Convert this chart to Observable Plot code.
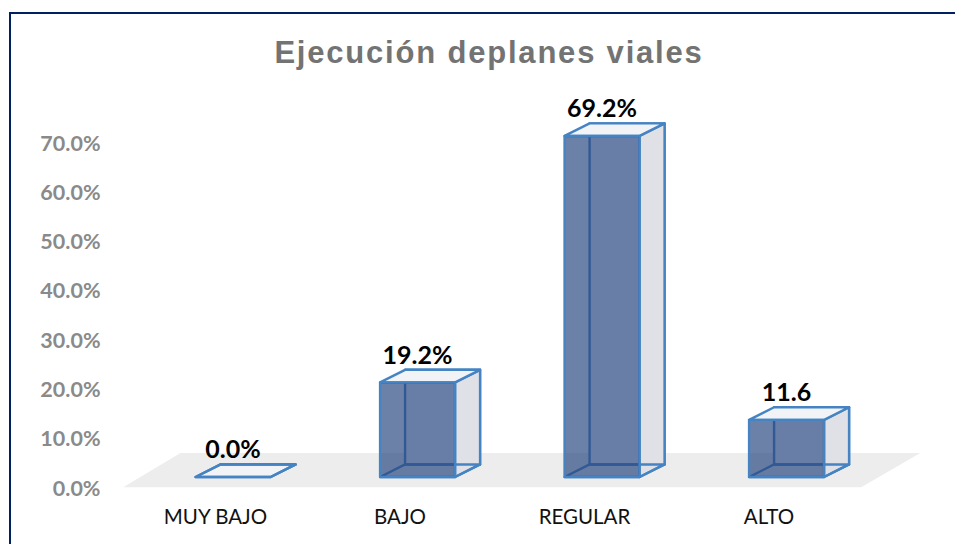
<!DOCTYPE html>
<html>
<head>
<meta charset="utf-8">
<script src="https://cdn.jsdelivr.net/npm/d3@7"></script>
<script src="https://cdn.jsdelivr.net/npm/@observablehq/plot@0.6"></script>
<style>
html,body{margin:0;padding:0;background:#fff;overflow:hidden}
#page{position:relative;width:955px;height:544px;overflow:hidden}
#frame{position:absolute;left:9px;top:12px;right:0;bottom:0;border-left:2px solid #002060;border-top:2px solid #002060;pointer-events:none}
#title{position:absolute;left:0;top:34px;width:978px;text-align:center;font:bold 31px "Liberation Sans",Arial,sans-serif;letter-spacing:1.8px;color:#737373;line-height:38px}
#chart{position:absolute;left:0;top:80px}
#chart svg{display:block}
</style>
</head>
<body>
<div id="page">
<div id="frame"></div>
<div id="title">Ejecución deplanes viales</div>
<div id="chart"></div>
</div>
<script>
const categories = ["MUY BAJO", "BAJO", "REGULAR", "ALTO"];
const values = [0, 19.2, 69.2, 11.6];
const valueLabels = ["0.0%", "19.2%", "69.2%", "11.6"];
const yTicks = [0, 10, 20, 30, 40, 50, 60, 70];

// Box geometry, in data units of the two scales
const barStart = -0.108, barWidth = 0.4065;
const depthX = 0.1355, depthY = 2.55;
const floorFront = -2.1, floorBack = 4.85;
const floorX = [-0.5, 3.5];

const edge = "#4583c3";
function poly(id, pts) {
  return [...pts, pts[0]].map(([x, y]) => ({id, x, y}));
}
const backFaces = [], sideFaces = [], topFaces = [], bottomFaces = [], frontFaces = [];
values.forEach((v, i) => {
  const a = i + barStart, b = a + barWidth;
  backFaces.push(...poly("back" + i, [[a + depthX, depthY], [b + depthX, depthY], [b + depthX, v + depthY], [a + depthX, v + depthY]]));
  sideFaces.push(...poly("side" + i, [[b, 0], [b + depthX, depthY], [b + depthX, v + depthY], [b, v]]));
  topFaces.push(...poly("top" + i, [[a, v], [b, v], [b + depthX, v + depthY], [a + depthX, v + depthY]]));
  bottomFaces.push(...poly("bottom" + i, [[a, 0], [b, 0], [b + depthX, depthY], [a + depthX, depthY]]));
  if (v > 0) frontFaces.push(...poly("front" + i, [[a, 0], [b, 0], [b, v], [a, v]]));
});
const floor = poly("floor", [[floorX[0], floorFront], [floorX[1], floorFront], [floorX[1] + 0.32, floorBack], [floorX[0] + 0.31, floorBack]]);
const face = (data, fill, extra = {}) => Plot.line(data, {x: "x", y: "y", z: "id", fill, curve: "linear", stroke: edge, strokeWidth: 2.4, strokeLinejoin: "round", ...extra});
const labelRows = values.map((v, i) => ({x: i + barStart + barWidth / 2, y: v + depthY, t: valueLabels[i]}));

const plot = Plot.plot({
  width: 955,
  height: 464,
  marginLeft: 100,
  marginRight: 0,
  marginTop: 0,
  marginBottom: 35,
  style: {fontFamily: "Lato, sans-serif", background: "transparent", overflow: "visible"},
  x: {type: "linear", domain: [0, 3], range: [215, 768.5], axis: null},
  y: {type: "linear", domain: [0, 70], range: [396.5, 51.5], axis: null},
  marks: [
    Plot.line(floor, {x: "x", y: "y", z: "id", fill: "#ededed", stroke: null}),
    face(backFaces, "#f4f5f7"),
    face(sideFaces, "#dfe1e6"),
    face(topFaces, "#f1f3f6"),
    face(bottomFaces, "#f1f3f6", {fillOpacity: 0}),
    face(frontFaces, "#26457f", {fillOpacity: 0.68}),
    Plot.axisY({ticks: yTicks, tickFormat: d => d.toFixed(1) + "%", tickSize: 0, tickPadding: 0, dy: 11.7, label: null, fontSize: 21.5, fontWeight: "bold", fill: "#8a8a8a", color: "#8a8a8a"}),
    Plot.axisX({ticks: [0, 1, 2, 3], tickFormat: i => categories[i], tickSize: 0, tickPadding: 0, label: null, fontSize: 20.5, fill: "#111", anchor: "bottom"}),
    Plot.text(labelRows, {x: "x", y: "y", text: "t", dy: -14, fontSize: 25, fontWeight: "bold", fill: "#000"})
  ]
});
document.getElementById("chart").appendChild(plot);
</script>
</body>
</html>
